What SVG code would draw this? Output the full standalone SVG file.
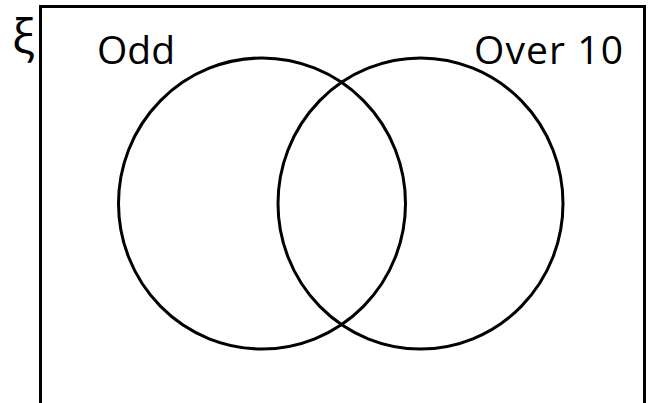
<svg xmlns="http://www.w3.org/2000/svg" width="651" height="403" viewBox="0 0 651 403">
  <style>
    .frame { fill: none; stroke: #000; stroke-width: 3; }
    .set { fill: none; stroke: #000; stroke-width: 3; }
    .label { font-family: "Open Sans", "Liberation Sans", Arial, sans-serif; font-size: 39px; fill: #000; }
  </style>
  <rect width="651" height="403" fill="#fff"/>
  <!-- universal set -->
  <g id="universe">
    <rect class="frame" x="40.5" y="6.5" width="604" height="420"/>
    <text class="label" x="12" y="53" style="font-size:48px">ξ</text>
  </g>
  <g id="odd">
    <ellipse class="set" cx="262" cy="203.5" rx="143.5" ry="145.5"/>
    <text class="label" x="97" y="64" textLength="78">Odd</text>
  </g>
  <g id="over10">
    <ellipse class="set" cx="420.5" cy="203.5" rx="142.5" ry="145.5"/>
    <text class="label" x="474" y="64" textLength="149">Over 10</text>
  </g>
  <g id="connectors"/>
</svg>
